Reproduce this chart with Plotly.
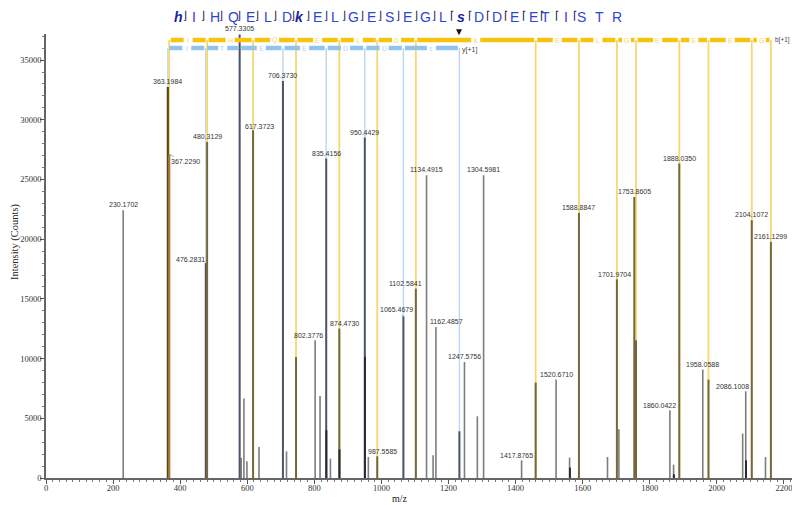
import plotly.graph_objects as go

# ---------------- data ----------------
labeled_mz = [230.1702, 363.1984, 367.2290, 476.2831, 480.3129, 577.3305, 617.3723, 706.3730,
              802.3776, 835.4156, 874.4730, 950.4429, 987.5585, 1065.4679, 1102.5841, 1134.4915,
              1162.4857, 1247.5756, 1304.5981, 1417.8765, 1520.6710, 1588.8847, 1701.9704, 1753.8605,
              1860.0422, 1888.0350, 1958.0588, 2086.1008, 2104.1072, 2161.1299]
labeled_int = [22420, 32750, 27100, 18000, 28140, 37150, 29120, 33250,
               11530, 26750, 12510, 28510, 1820, 13540, 15860, 25350,
               12650, 9720, 25350, 1480, 8240, 22190, 16640, 23530,
               5670, 26330, 9080, 7260, 21580, 19770]
labeled_kind = ['o', 'by', 'b2', 'y', 'b', 'y', 'b', 'y',
                'o', 'y', 'b', 'y', 'b', 'y', 'b', 'o',
                'o', 'o', 'o', 'o', 'o', 'b', 'b', 'b',
                'o', 'b', 'o', 'o', 'b', 'b']

other_mz = [582, 590, 599, 635, 717, 745.43, 817, 848, 961, 1154, 1232.47, 1286, 1459.84,
            1561, 1674, 1708, 1758.99, 1871, 1975.07, 2077, 2145]
other_int = [1680, 6650, 1400, 2600, 2230, 10130, 6870, 1620, 1760, 1900, 3910, 5170, 7990,
             1710, 1760, 4080, 11530, 1120, 8240, 3720, 1760]
other_kind = ['o', 'o', 'o', 'o', 'o', 'b', 'o', 'o', 'o', 'o', 'y', 'o', 'b',
              'o', 'o', 'o', 'b', 'o', 'b', 'o', 'o']

overlay_mz = [835.9, 875.0, 950.9, 1562, 1872, 2087]
overlay_int = [4000, 2400, 10130, 870, 310, 1480]

b_ion_mz = [367.229, 480.313, 617.372, 745.43, 874.473, 987.559, 1102.584, 1459.84,
            1588.885, 1701.970, 1758.99, 1888.035, 1975.07, 2104.107, 2161.130]
b_res = ['I', 'H', 'Q', 'E', 'L', 'D', 'k', 'E', 'L', 'G', 'E', 'S', 'E', 'G']
y_ion_mz = [363.198, 476.283, 577.331, 706.373, 835.416, 950.443, 1065.468, 1232.47]
y_res = ['I', 'T', 'E', 'E', 'D', 'D', 's']

sequence = list("hIHQELDkELGESEGLsDDEETISTR")
b_break_after = list(range(0, 15))
y_break_before = list(range(16, 24))
precursor_mz = [1232.47]

x_ticks = [0, 200, 400, 600, 800, 1000, 1200, 1400, 1600, 1800, 2000, 2200]
y_ticks = [0, 5000, 10000, 15000, 20000, 25000, 30000, 35000]

# ---------------- geometry / style ----------------
OFF = 8                      # page offset of the figure (body margin)
W, H = 800 - OFF, 505 - OFF
ML, MR, MT, MB = 38, 6, 26, 27
PW, PH = W - ML - MR, H - MT - MB
XMAX = 2230
YMAX = 37186
px_per_x = PW / XMAX
px_per_y = PH / YMAX


def y_at_px(py):            # page pixel -> data y
    return (H - MB - (py - OFF)) / px_per_y


def xp(px):                 # page pixel -> paper x
    return (px - OFF - ML) / PW


def yp(py):                 # page pixel -> paper y
    return (H - MB - (py - OFF)) / PH


Y_BAR_B = y_at_px(40)
Y_BAR_Y = y_at_px(48)

colors = {'o': '#7d7d7d', 'b': '#76673b', 'y': '#4b5566', 'by': '#55482a',
          'b2': '#a8772f', 'd': '#262b34'}
widths = {'o': 1.6, 'b': 2.0, 'y': 2.0, 'by': 2.2, 'b2': 2.2, 'd': 2.0}

label_off = {367.2290: (16, 7), 476.2831: (-15, -4), 617.3723: (6, -4), 802.3776: (-7, -5),
             874.4730: (5, -5), 987.5585: (5, -5), 1065.4679: (-7, -6.5), 1102.5841: (-10, -5),
             1162.4857: (11, -5), 1417.8765: (-5, -5), 1701.9704: (-2, -5), 1860.0422: (-10, -5),
             2086.1008: (-13, -5)}

fig = go.Figure()


def sticks(xs, y0s, y1s):
    X, Y = [], []
    for x, a, b in zip(xs, y0s, y1s):
        X += [x, x, None]
        Y += [a, b, None]
    return X, Y


# y-ion light blue guide lines
X, Y = sticks(y_ion_mz, [0] * len(y_ion_mz), [Y_BAR_Y] * len(y_ion_mz))
fig.add_trace(go.Scatter(x=X, y=Y, mode='lines', line=dict(color='#b9d8f5', width=1.4),
                         hoverinfo='skip', showlegend=False))
# b-ion yellow guide lines
X, Y = sticks(b_ion_mz, [0] * len(b_ion_mz), [Y_BAR_B] * len(b_ion_mz))
fig.add_trace(go.Scatter(x=X, y=Y, mode='lines', line=dict(color='#f5d86f', width=1.8),
                         hoverinfo='skip', showlegend=False))

# peaks grouped by kind
all_mz = labeled_mz + other_mz
all_int = labeled_int + other_int
all_kind = labeled_kind + other_kind
for kind in ['o', 'y', 'b', 'by', 'b2']:
    xs = [m for m, k in zip(all_mz, all_kind) if k == kind]
    ys = [i for i, k in zip(all_int, all_kind) if k == kind]
    X, Y = sticks(xs, [0] * len(xs), ys)
    fig.add_trace(go.Scatter(x=X, y=Y, mode='lines',
                             line=dict(color=colors[kind], width=widths[kind]),
                             hoverinfo='skip', showlegend=False))
X, Y = sticks(overlay_mz, [0] * len(overlay_mz), overlay_int)
fig.add_trace(go.Scatter(x=X, y=Y, mode='lines', line=dict(color=colors['d'], width=2.0),
                         hoverinfo='skip', showlegend=False))


# fragment bars at top
def bar_trace(bounds, res, ylev, color, txtcolor):
    gap = 1.5 / px_per_x
    half = 4.5 / px_per_x
    X, Y = [], []
    for i, r in enumerate(res):
        a, b = bounds[i] + gap, bounds[i + 1] - gap
        mid = (bounds[i] + bounds[i + 1]) / 2
        X += [a, max(a, mid - half), None, min(b, mid + half), b, None]
        Y += [ylev, ylev, None, ylev, ylev, None]
        fig.add_annotation(x=mid, y=ylev, xref='x', yref='y', text=r, showarrow=False,
                           font=dict(size=7, color=txtcolor, family='Liberation Sans, Arial'))
    fig.add_trace(go.Scatter(x=X, y=Y, mode='lines', line=dict(color=color, width=4.5),
                             hoverinfo='skip', showlegend=False, cliponaxis=False))


bar_trace(b_ion_mz, b_res, Y_BAR_B, '#f6c40f', '#f3d46a')
bar_trace(y_ion_mz, y_res, Y_BAR_Y, '#92c3ef', '#b3d5f3')

fig.add_annotation(x=y_ion_mz[-1], y=Y_BAR_Y, xref='x', yref='y', text='y[+1]', showarrow=False,
                   xanchor='left', xshift=1, yshift=-2,
                   font=dict(size=7, color='#444', family='Liberation Sans, Arial'))
fig.add_annotation(x=b_ion_mz[-1], y=Y_BAR_B, xref='x', yref='y', text='b[+1]', showarrow=False,
                   xanchor='left', xshift=3, borderpad=0,
                   font=dict(size=6.5, color='#444', family='Liberation Sans, Arial'))
for pm in precursor_mz:
    fig.add_annotation(x=pm, y=yp(31), xref='x', yref='paper', text='▼', showarrow=False,
                       yanchor='middle', font=dict(size=10, color='#111'))

# peak labels
for m, inten in zip(labeled_mz, labeled_int):
    dx, dy = label_off.get(m, (0, -5.5))
    conn = m in label_off
    fig.add_annotation(x=m, y=min(inten, YMAX), xref='x', yref='y', text=f"{m:.4f}",
                       showarrow=True, ax=dx, ay=dy, axref='pixel', ayref='pixel',
                       arrowhead=0, arrowwidth=0.8, standoff=0, startstandoff=0,
                       arrowcolor='#8f9c86' if conn else 'rgba(0,0,0,0)',
                       font=dict(size=7, color='#333', family='Liberation Sans, Arial'))

# peptide sequence header (anchored to the very top of the figure)
for i, aa in enumerate(sequence):
    px = 173 + 18 * i
    if aa.islower():
        txt = f"<b><i>{aa}</i></b>"
        col = '#1b1fa0'
    else:
        txt = aa
        col = '#2f43d6'
    fig.add_annotation(x=xp(px), y=yp(OFF), xref='paper', yref='paper', text=txt, showarrow=False,
                       yanchor='top', borderpad=0,
                       font=dict(size=14, color=col, family='Liberation Sans, Arial'))
    if i in b_break_after:
        fig.add_annotation(x=xp(px + 9), y=yp(OFF), xref='paper', yref='paper', text='⌋',
                           showarrow=False, yanchor='top', borderpad=0,
                           font=dict(size=11, color='#23234a', family='DejaVu Sans'))
    if i in y_break_before:
        fig.add_annotation(x=xp(px - 9), y=yp(OFF), xref='paper', yref='paper', text='⌈',
                           showarrow=False, yanchor='top', borderpad=0,
                           font=dict(size=11, color='#23234a', family='DejaVu Sans'))

# axis titles
fig.add_annotation(x=xp(400), y=yp(505), xref='paper', yref='paper', text='m/z', showarrow=False,
                   yanchor='bottom', borderpad=0,
                   font=dict(size=10, color='#222', family='Liberation Serif, Times New Roman'))
fig.add_annotation(x=xp(OFF), y=yp(242), xref='paper', yref='paper', text='Intensity (Counts)',
                   showarrow=False, textangle=-90, xanchor='left', borderpad=0,
                   font=dict(size=10.5, color='#222', family='Liberation Serif, Times New Roman'))

axis_font = dict(size=8.5, color='#333', family='Liberation Serif, Times New Roman')
fig.update_layout(
    width=W, height=H, margin=dict(l=ML, r=MR, t=MT, b=MB, autoexpand=False),
    paper_bgcolor='white', plot_bgcolor='white', showlegend=False,
    xaxis=dict(range=[0, XMAX], tickvals=x_ticks, ticktext=[str(v) for v in x_ticks],
               ticks='outside', ticklen=4, tickcolor='#555', showline=True, linecolor='#666',
               linewidth=1.5, showgrid=False, zeroline=False, tickfont=axis_font, automargin=False,
               ticklabelstandoff=-3,
               minor=dict(dtick=20, tick0=0, ticks='outside', ticklen=2, tickcolor='#777', showgrid=False)),
    yaxis=dict(range=[0, YMAX], tickvals=y_ticks, ticktext=[str(v) for v in y_ticks],
               ticks='outside', ticklen=4, tickcolor='#555', showline=True, linecolor='#666',
               linewidth=1.5, showgrid=False, zeroline=False, tickfont=axis_font, automargin=False,
               ticklabelstandoff=-3,
               minor=dict(dtick=1000, tick0=0, ticks='outside', ticklen=2, tickcolor='#777', showgrid=False)),
)

fig.write_html("out.html")
